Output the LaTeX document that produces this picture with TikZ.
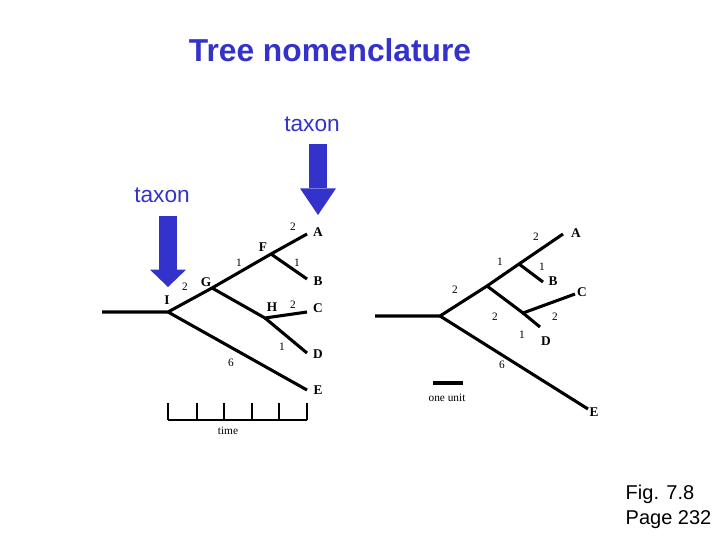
\documentclass[tikz,border=0pt]{standalone}
\usepackage{fontspec}
\setmainfont{Liberation Serif}
\newfontfamily\slidefont{Liberation Sans}
\usetikzlibrary{arrows.meta}
\definecolor{slideblue}{RGB}{51,51,204}

\begin{document}
\begin{tikzpicture}[
		x=0.75pt, y=-0.75pt,
		branch/.style={line width=2.3pt},
		taxlabel/.style={font=\bfseries\fontsize{10}{12}\selectfont, inner sep=1pt},
		brlen/.style={font=\fontsize{8.5}{10}\selectfont, inner sep=1pt},
		slidetext/.style={font=\slidefont\fontsize{17}{20}\selectfont, text=slideblue},
		bigarrow/.style={draw=slideblue, line width=13pt,
			-{Triangle[width=27pt, length=#1, line width=0pt, fill=slideblue]}}
		]
		\useasboundingbox (0,0) rectangle (720,540);

		% title and pointers
		\node[slidetext, font=\slidefont\bfseries\fontsize{23.8}{28}\selectfont] (title) at (330,50) {Tree nomenclature};
		\node[slidetext] (taxonR) at (312,124) {taxon};
		\node[slidetext] (taxonL) at (162,195) {taxon};
		\coordinate (tipR) at (318,215);
		\coordinate (tipL) at (168,287);
		\draw[bigarrow=20pt] (318,144) -- (tipR);
		\draw[bigarrow=13pt] (168,216) -- (tipL);

		% rooted tree, time scale
		\coordinate (root) at (102,312);
		\coordinate (I) at (168,312);
		\coordinate (G) at (212,288);
		\coordinate (F) at (271,254);
		\coordinate (H) at (265,318);
		\coordinate (A) at (307,234);
		\coordinate (B) at (307,279);
		\coordinate (C) at (307,312);
		\coordinate (D) at (307,353);
		\coordinate (E) at (307,390);
		\draw[branch] (root) -- (I) -- (G) -- (F) -- (A);
		\draw[branch] (F) -- (B);
		\draw[branch] (G) -- (H) -- (C);
		\draw[branch] (H) -- (D);
		\draw[branch] (I) -- (E);
		\node[taxlabel] (lA) at (318,232) {A};
		\node[taxlabel] (lB) at (318,281) {B};
		\node[taxlabel] (lC) at (318,308) {C};
		\node[taxlabel] (lD) at (318,354) {D};
		\node[taxlabel] (lE) at (318,390) {E};
		\node[taxlabel] (lF) at (263,247) {F};
		\node[taxlabel] (lG) at (206,282) {G};
		\node[taxlabel] (lH) at (272,307) {H};
		\node[taxlabel] (lI) at (167,300) {I};
		\node[brlen] at (293,227) {2};
		\node[brlen] at (297,263) {1};
		\node[brlen] at (239,263) {1};
		\node[brlen] at (185,287) {2};
		\node[brlen] at (293,305) {2};
		\node[brlen] at (282,347) {1};
		\node[brlen] at (231,363) {6};
		\draw[line width=0.8pt] (168,420) -- (307,420);
		\foreach \x in {168,197,224,252,279,307}
			\draw[line width=0.8pt] (\x,420) -- (\x,403);
		\node[brlen] (time) at (228,431) {time};

		% unrooted tree, scale bar
		\coordinate (rroot) at (375,316);
		\coordinate (rI) at (440,316);
		\coordinate (rG) at (487,286);
		\coordinate (rF) at (519,264);
		\coordinate (rH) at (523,313);
		\coordinate (rA) at (563,234);
		\coordinate (rB) at (543,282);
		\coordinate (rC) at (575,294);
		\coordinate (rD) at (540,327);
		\coordinate (rE) at (588,409);
		\draw[branch] (rroot) -- (rI) -- (rG) -- (rF) -- (rA);
		\draw[branch] (rF) -- (rB);
		\draw[branch] (rG) -- (rH) -- (rC);
		\draw[branch] (rH) -- (rD);
		\draw[branch] (rI) -- (rE);
		\node[taxlabel] (rlA) at (576,233) {A};
		\node[taxlabel] (rlB) at (553,281) {B};
		\node[taxlabel] (rlC) at (582,292) {C};
		\node[taxlabel] (rlD) at (546,341) {D};
		\node[taxlabel] (rlE) at (594,412) {E};
		\node[brlen] at (536,237) {2};
		\node[brlen] at (500,262) {1};
		\node[brlen] at (542,267) {1};
		\node[brlen] at (455,290) {2};
		\node[brlen] at (495,317) {2};
		\node[brlen] at (555,317) {2};
		\node[brlen] at (522,335) {1};
		\node[brlen] at (502,365) {6};
		\coordinate (u0) at (433,383);
		\coordinate (u1) at (463,383);
		\draw[branch] (u0) -- (u1);
		\node[brlen] (unit) at (447,398) {one unit};

		\node[font=\slidefont\fontsize{15}{19}\selectfont, align=left, anchor=west] (fig) at (621,507) {Fig. 7.8\\Page 232};
	\end{tikzpicture}
\end{document}
